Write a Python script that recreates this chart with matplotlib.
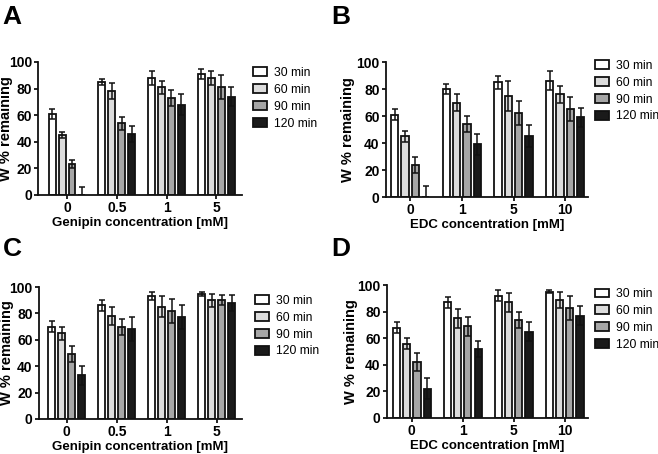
import numpy as np
import matplotlib
matplotlib.use("Agg")
import matplotlib.pyplot as plt

plt.rcParams['font.family'] = ['Liberation Sans', 'DejaVu Sans']

times = ["30 min", "60 min", "90 min", "120 min"]
colors = ["#ffffff", "#dcdcdc", "#a6a6a6", "#1a1a1a"]

genipin_ticks = ["0", "0.5", "1", "5"]
edc_ticks = ["0", "1", "5", "10"]

# rows = concentration, cols = time
a_mean = [[61, 45, 23, 0], [85, 78, 54, 46], [88, 81, 73, 68], [91, 88, 81, 74]]
a_err = [[4, 2, 3, 6], [2, 6, 5, 6], [5, 5, 6, 8], [4, 5, 9, 7]]
b_mean = [[61, 45, 24, 0], [80, 70, 54, 39], [85, 75, 62, 45], [86, 76, 65, 59]]
b_err = [[4, 4, 6, 8], [4, 6, 6, 8], [5, 11, 9, 8], [7, 6, 9, 7]]
c_mean = [[70, 65, 49, 33], [86, 78, 70, 68], [93, 85, 82, 77], [95, 90, 90, 88]]
c_err = [[4, 5, 6, 7], [4, 7, 6, 9], [3, 8, 9, 9], [1.5, 5, 4, 6]]
d_mean = [[68, 56, 42, 22], [87, 75, 69, 52], [92, 87, 74, 65], [95, 89, 83, 77]]
d_err = [[4, 4, 7, 8], [4, 7, 7, 6], [4, 7, 6, 7], [1, 6, 9, 7]]

fig = plt.figure(figsize=(6.58, 4.54), dpi=100)

panels = [
    ("A", [0.058, 0.5705, 0.310, 0.293], a_mean, a_err, genipin_ticks, "Genipin concentration [mM]", (-0.58, 3.52), (1.054, 0.962), -0.125),
    ("B", [0.5866, 0.566, 0.307, 0.2974], b_mean, b_err, edc_ticks, "EDC concentration [mM]", (-0.47, 3.44), (1.035, 1.015), -0.153),
    ("C", [0.059, 0.0771, 0.3085, 0.2907], c_mean, c_err, genipin_ticks, "Genipin concentration [mM]", (-0.56, 3.5), (1.064, 0.94), -0.12),
    ("D", [0.588, 0.0793, 0.305, 0.2927], d_mean, d_err, edc_ticks, "EDC concentration [mM]", (-0.49, 3.45), (1.035, 0.977), -0.144),
]
letter_pos = {"A": (0.004, 0.99), "B": (0.503, 0.99), "C": (0.004, 0.478), "D": (0.503, 0.478)}

for name, rect, mean, err, ticks, xlabel, xl, leg_at, ylab_x in panels:
    ax = fig.add_axes(rect)
    mean = np.array(mean)
    err = np.array(err)
    x = np.arange(len(ticks))
    for j in range(4):
        pos = x + (j - 1.5) * 0.2
        ax.bar(pos, mean[:, j], width=0.14, color=colors[j], edgecolor="#111111",
               linewidth=1.3, label=times[j], zorder=2)
        ax.errorbar(pos, mean[:, j], yerr=err[:, j], fmt="none", ecolor="#111111",
                    elinewidth=1.1, capsize=2.5, capthick=1.1, zorder=3)
    ax.set_ylim(0, 100)
    ax.set_xlim(*xl)
    ax.set_yticks([0, 20, 40, 60, 80, 100])
    ax.set_xticks(x)
    ax.set_xticklabels(ticks)
    for s in ["top", "right"]:
        ax.spines[s].set_visible(False)
    for s in ["left", "bottom"]:
        ax.spines[s].set_linewidth(1.3)
        ax.spines[s].set_color("#111111")
    ax.tick_params(axis="both", direction="out", length=3, width=1.2, labelsize=10, pad=1.5)
    for lab in ax.get_xticklabels() + ax.get_yticklabels():
        lab.set_fontweight("bold")
    ax.set_ylabel("W % remaining", fontsize=10.5, fontweight="bold")
    ax.yaxis.set_label_coords(ylab_x, 0.5)
    ax.set_xlabel(xlabel, fontsize=9.5, fontweight="bold", labelpad=1)
    ax.legend(loc="upper left", bbox_to_anchor=leg_at, frameon=False, fontsize=8.7,
              handlelength=1.15, handleheight=0.75, handletextpad=0.6, labelspacing=0.4,
              borderaxespad=0, borderpad=0)
    fig.text(letter_pos[name][0], letter_pos[name][1], name, fontsize=19, fontweight="bold",
             ha="left", va="top")

fig.savefig("out.png", dpi=100)
